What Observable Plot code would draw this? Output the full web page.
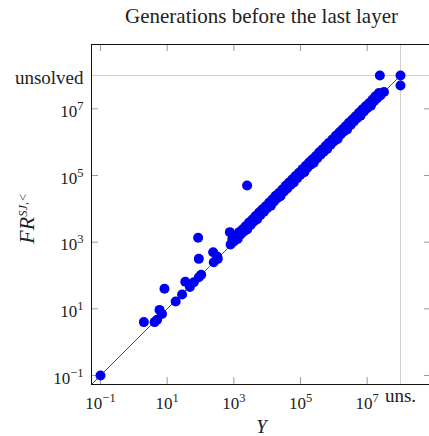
<!DOCTYPE html>
<html><head><meta charset="utf-8">
<script src="https://cdn.jsdelivr.net/npm/d3@7"></script>
<script src="https://cdn.jsdelivr.net/npm/@observablehq/plot@0.6"></script>
<style>html,body{margin:0;padding:0;background:#fff;overflow:hidden}</style>
</head><body><div id="chart"></div>
<script>
// Outlying / sparse points (Y, FR)
const scatterX = [0.1, 2, 4.2, 5, 5.9, 7, 8.3, 18, 28, 35, 48, 63, 89, 105, 89, 85, 240, 250, 330, 316, 760, 2500, 2.4e7, 1e8, 1e8];
const scatterY = [0.1, 4, 4, 4.7, 9.3, 7, 40, 16.6, 27, 65, 45, 63, 89, 105, 316, 1350, 500, 250, 316, 370, 2000, 50000, 1e8, 1e8, 5e7];
// Dense band along the diagonal: lower row
const bandLowX = [800, 1000, 1300, 1600, 2000, 2500, 3200, 4000, 5000, 6300, 8000, 10000, 13000, 16000, 20000, 25000, 32000, 40000, 50000, 63000, 80000, 1e5, 1.3e5, 1.6e5, 2e5, 2.5e5, 3.2e5, 4e5, 5e5, 6.3e5, 8e5, 1e6, 1.3e6, 1.6e6, 2e6, 2.5e6, 3.2e6, 4e6, 5e6, 6.3e6, 8e6, 1e7, 1.3e7, 1.6e7, 2e7, 2.5e7, 3.2e7];
const bandLowY = [850, 1050, 1250, 1700, 2100, 2400, 3300, 4200, 4900, 6500, 8200, 10500, 12500, 16500, 21000, 24000, 33000, 41000, 52000, 62000, 83000, 1.05e5, 1.25e5, 1.7e5, 2.1e5, 2.4e5, 3.3e5, 4.2e5, 5.2e5, 6.2e5, 8.4e5, 1.05e6, 1.25e6, 1.7e6, 2.1e6, 2.4e6, 3.3e6, 4.2e6, 5.2e6, 6.2e6, 8.3e6, 1.05e7, 1.25e7, 1.7e7, 2.1e7, 2.5e7, 3.2e7];
// Dense band: upper row
const bandHighX = [900, 1150, 1450, 1800, 2250, 2850, 3600, 4500, 5700, 7100, 9000, 11500, 14500, 18000, 22500, 28500, 36000, 45000, 57000, 71000, 90000, 1.15e5, 1.45e5, 1.8e5, 2.25e5, 2.85e5, 3.6e5, 4.5e5, 5.7e5, 7.1e5, 9e5, 1.15e6, 1.45e6, 1.8e6, 2.25e6, 2.85e6, 3.6e6, 4.5e6, 5.7e6, 7.1e6, 9e6, 1.15e7, 1.45e7, 1.8e7, 2.25e7];
const bandHighY = [1250, 1550, 2000, 2400, 3000, 3900, 4800, 6100, 7700, 9500, 12000, 15500, 19500, 24500, 30000, 38000, 49000, 61000, 77000, 96000, 1.2e5, 1.55e5, 1.95e5, 2.45e5, 3e5, 3.8e5, 4.9e5, 6e5, 7.7e5, 9.5e5, 1.2e6, 1.55e6, 1.95e6, 2.4e6, 3e6, 3.85e6, 4.8e6, 6e6, 7.6e6, 9.5e6, 1.2e7, 1.5e7, 1.9e7, 2.4e7, 3e7];

const tickValues = [0.1, 10, 1000, 1e5, 1e7];
const tickLabels = ["10^−1", "10^1", "10^3", "10^5", "10^7"];
const unsolvedValue = 1e8;
const xUnsolvedLabel = "uns.";
const yUnsolvedLabel = "unsolved";
const diagonal = [0.05, 1e8];
const title = "Generations before the last layer";
const xLabel = "Y";
const yLabel = "FR^SJ,<";

const points = [];
scatterX.forEach((x, i) => points.push({x, y: scatterY[i]}));
bandLowX.forEach((x, i) => points.push({x, y: bandLowY[i]}));
bandHighX.forEach((x, i) => points.push({x, y: bandHighY[i]}));
const diag = diagonal.map(v => ({x: v, y: v}));

const W = 429, H = 436, mL = 91, mR = -2, mT = 44, mB = 52;
const pw = W - mL - mR, ph = H - mT - mB;
const tl = 7;
const dom = [Math.pow(10, -1.27), Math.pow(10, 8.93)];
const font = "Liberation Serif";
const tickColor = "#9a9a9a";
const ink = "#222";

const chart = Plot.plot({
  width: W, height: H,
  marginLeft: mL, marginRight: mR, marginTop: mT, marginBottom: mB,
  style: {fontFamily: font, fontSize: "16px", background: "#fff"},
  x: {type: "log", domain: dom, axis: null},
  y: {type: "log", domain: dom, axis: null},
  marks: [
    Plot.ruleX([unsolvedValue], {stroke: "#cfcfcf", strokeWidth: 1}),
    Plot.ruleY([unsolvedValue], {stroke: "#cfcfcf", strokeWidth: 1}),
    Plot.ruleX(tickValues, {stroke: tickColor, insetTop: ph - tl}),
    Plot.ruleX(tickValues, {stroke: tickColor, insetBottom: ph - tl}),
    Plot.ruleY(tickValues, {stroke: tickColor, insetRight: pw - tl}),
    Plot.ruleY(tickValues, {stroke: tickColor, insetLeft: pw - tl}),
    Plot.line(diag, {x: "x", y: "y", stroke: "#222", strokeWidth: 0.8, clip: true}),
    Plot.dot(points, {x: "x", y: "y", r: 5, fill: "#0000f0", stroke: "none"}),
    Plot.frame({stroke: "#111", strokeWidth: 1}),
    Plot.text(tickValues, {x: d => d, text: (d, i) => tickLabels[i], frameAnchor: "bottom", dy: 24, lineAnchor: "bottom", fontSize: 17, fill: ink}),
    Plot.text([unsolvedValue], {x: d => d, text: () => xUnsolvedLabel, frameAnchor: "bottom", dy: 17, lineAnchor: "bottom", fontSize: 19, fill: ink, ariaLabel: "wide"}),
    Plot.text(tickValues, {y: d => d, text: (d, i) => tickLabels[i], frameAnchor: "left", dx: -8, dy: 8, textAnchor: "end", lineAnchor: "bottom", fontSize: 17, fill: ink}),
    Plot.text([unsolvedValue], {y: d => d, text: () => yUnsolvedLabel, frameAnchor: "left", dx: -8, dy: 8, textAnchor: "end", lineAnchor: "bottom", fontSize: 19, fill: ink, ariaLabel: "wide"}),
    Plot.text([title], {text: d => d, frameAnchor: "top", dy: -22, lineAnchor: "bottom", fontSize: 21, fill: ink, ariaLabel: "title"}),
    Plot.text([xLabel], {text: d => d, frameAnchor: "bottom", dy: 48, lineAnchor: "bottom", fontSize: 19, fontStyle: "italic", fill: ink}),
    Plot.text([yLabel], {text: d => d, frameAnchor: "left", dx: -58, dy: 4, rotate: -90, lineAnchor: "bottom", textAnchor: "middle", fontSize: 22, fontStyle: "italic", fill: ink, ariaLabel: "ylabel"})
  ]
});

d3.select(chart).selectAll("g[aria-label='wide'] text").style("letter-spacing", "0.6px");
d3.select(chart).selectAll("g[aria-label='title'] text").style("letter-spacing", "0.8px");

// superscripts
d3.select(chart).selectAll("text").each(function() {
  const t = this.textContent;
  if (t.includes("^")) {
    const [base, sup] = t.split("^");
    const isLabel = this.parentNode.getAttribute("aria-label") === "ylabel";
    const sel = d3.select(this);
    sel.text(null);
    sel.append("tspan").text(base);
    const s = sel.append("tspan").attr("dy", isLabel ? -9 : -7).style("font-size", isLabel ? "15px" : "12.5px").text(sup);
    if (isLabel) s.style("letter-spacing", "1.5px");
  }
});
document.getElementById("chart").appendChild(chart);
</script></body></html>
